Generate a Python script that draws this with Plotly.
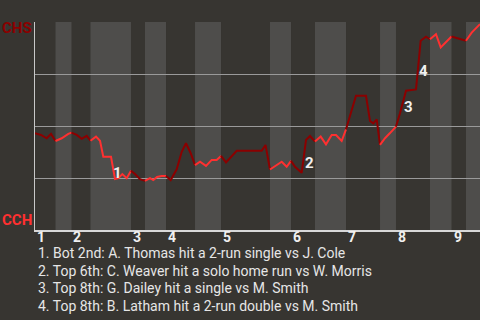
import plotly.graph_objects as go

# Win-probability path: x = game progress (0-100), y = CHS win probability
wp_x = [0, 1.35, 2.63, 3.6, 4.61,
        6.0, 7.48, 8.2,
        9.37, 10.49, 11.62, 12.47,
        13.71, 14.61, 15.35, 17.08, 17.98, 18.72, 19.62, 20.61, 21.57,
        22.47, 23.6, 24.72,
        25.84, 26.58, 27.42, 28.47, 29.44,
        30.49, 31.84, 32.97, 33.93, 34.99, 35.96,
        37.08, 38.43, 39.71, 40.83, 41.8,
        42.92, 45.33, 50.94, 51.8, 52.81,
        54.16, 55.44, 56.56, 57.53,
        58.43, 59.93, 60.9, 61.8, 62.92,
        64.2, 65.39, 66.67, 67.64, 68.92, 69.89,
        71.17, 72.13, 74.38, 75.28, 76.02, 76.79, 77.53,
        78.65, 79.78, 81.12,
        82.02, 83.37, 85.62, 86.67, 87.87, 88.76,
        90.11, 91.17, 93.6,
        94.72, 96.85,
        98.13, 100]
wp_y = [0.465, 0.457, 0.441, 0.462, 0.428,
        0.441, 0.462, 0.468,
        0.457, 0.438, 0.453, 0.429,
        0.449, 0.429, 0.352, 0.352, 0.245, 0.249, 0.269, 0.249, 0.285,
        0.269, 0.244, 0.236,
        0.249, 0.240, 0.255, 0.260, 0.260,
        0.240, 0.292, 0.376, 0.417, 0.369, 0.312,
        0.328, 0.308, 0.337, 0.337, 0.356,
        0.325, 0.381, 0.381, 0.409, 0.291,
        0.312, 0.328, 0.304, 0.332,
        0.304, 0.275, 0.433, 0.452, 0.425,
        0.449, 0.412, 0.457, 0.457, 0.428, 0.484,
        0.577, 0.646, 0.646, 0.524, 0.513, 0.532, 0.409,
        0.441, 0.466, 0.497,
        0.561, 0.670, 0.676, 0.910, 0.929, 0.917,
        0.941, 0.878, 0.930,
        0.922, 0.910,
        0.949, 0.990]

# Half-inning boundaries (top 1, bottom 1, top 2, ...)
half_bounds = [0, 4.61, 8.2, 12.47, 21.57, 24.72, 29.44, 35.96, 41.8, 52.81,
               57.53, 62.92, 69.89, 77.53, 81.12, 88.76, 93.6, 96.85, 100]
inning_labels = ["1", "2", "3", "4", "5", "6", "7", "8", "9"]

team_top = "CHS"
team_bottom = "CCH"
color_top = "#8b0000"      # CHS batting (top half)
color_bottom = "#ff3030"   # CCH batting (bottom half)

marker_labels = ["1", "2", "3", "4"]
marker_x = [18.6, 61.6, 84.0, 87.4]
marker_y = [0.274, 0.324, 0.59, 0.766]

events = [
    "1. Bot 2nd: A. Thomas hit a 2-run single vs J. Cole",
    "2. Top 6th: C. Weaver hit a solo home run vs W. Morris",
    "3. Top 8th: G. Dailey hit a single vs M. Smith",
    "4. Top 8th: B. Latham hit a 2-run double vs M. Smith",
]

BG = "#373531"
BAND = "#4e4d4b"
FONT = "Roboto"

fig = go.Figure()

# Alternating half-inning bands
shapes = []
for i in range(len(half_bounds) - 1):
    if i % 2 == 1:
        shapes.append(dict(type="rect", xref="x", yref="paper",
                           x0=half_bounds[i], x1=half_bounds[i + 1], y0=0, y1=1,
                           fillcolor=BAND, line=dict(width=0), layer="below"))

# Line segments coloured by batting team
for i in range(len(half_bounds) - 1):
    b0, b1 = half_bounds[i], half_bounds[i + 1]
    xs = [x for x in wp_x if b0 - 1e-9 <= x <= b1 + 1e-9]
    ys = [y for x, y in zip(wp_x, wp_y) if b0 - 1e-9 <= x <= b1 + 1e-9]
    fig.add_trace(go.Scatter(x=xs, y=ys, mode="lines",
                             line=dict(color=color_top if i % 2 == 0 else color_bottom, width=2),
                             hoverinfo="skip", showlegend=False))

annotations = []
for t, x, y in zip(marker_labels, marker_x, marker_y):
    annotations.append(dict(text=t, x=x, y=y, xref="x", yref="y", showarrow=False,
                            font=dict(family=FONT, size=15, color="#f0f0f0", weight="bold")))

# Inning labels, left-aligned at the start of each inning
for k, lab in enumerate(inning_labels):
    annotations.append(dict(text=lab, x=half_bounds[2 * k], y=-0.034, xref="x", yref="paper",
                            xanchor="left", yanchor="middle", xshift=0, showarrow=False,
                            font=dict(family=FONT, size=14, color="#f0f0f0", weight="bold")))

annotations.append(dict(text=team_top, x=0, y=0.971, xref="paper", yref="y",
                        xanchor="right", xshift=-1, showarrow=False,
                        font=dict(family=FONT, size=15, color=color_top, weight="bold")))
annotations.append(dict(text=team_bottom, x=0, y=0.048, xref="paper", yref="y",
                        xanchor="right", xshift=-1, showarrow=False,
                        font=dict(family=FONT, size=15, color=color_bottom, weight="bold")))

event_y = [-0.109, -0.195, -0.281, -0.366]
for t, y in zip(events, event_y):
    annotations.append(dict(text=t, x=0.003, y=y, xref="paper", yref="paper",
                            xanchor="left", yanchor="middle", showarrow=False,
                            font=dict(family=FONT, size=14, color="#e6e6e6")))

fig.update_layout(
    width=480, height=320,
    margin=dict(l=35, r=0, t=22, b=90),
    paper_bgcolor=BG, plot_bgcolor=BG,
    shapes=shapes, annotations=annotations,
    xaxis=dict(range=[0, 100], showgrid=False, zeroline=False,
               showline=True, linecolor="#d8d8d8", linewidth=2,
               showticklabels=False, ticks=""),
    yaxis=dict(range=[0, 1], dtick=0.25, showgrid=True, gridcolor="#9a9a9a", gridwidth=1,
               zeroline=False, showline=True, linecolor="#c8c8c8", linewidth=1,
               showticklabels=False, ticks=""),
)

fig.write_html("out.html")
